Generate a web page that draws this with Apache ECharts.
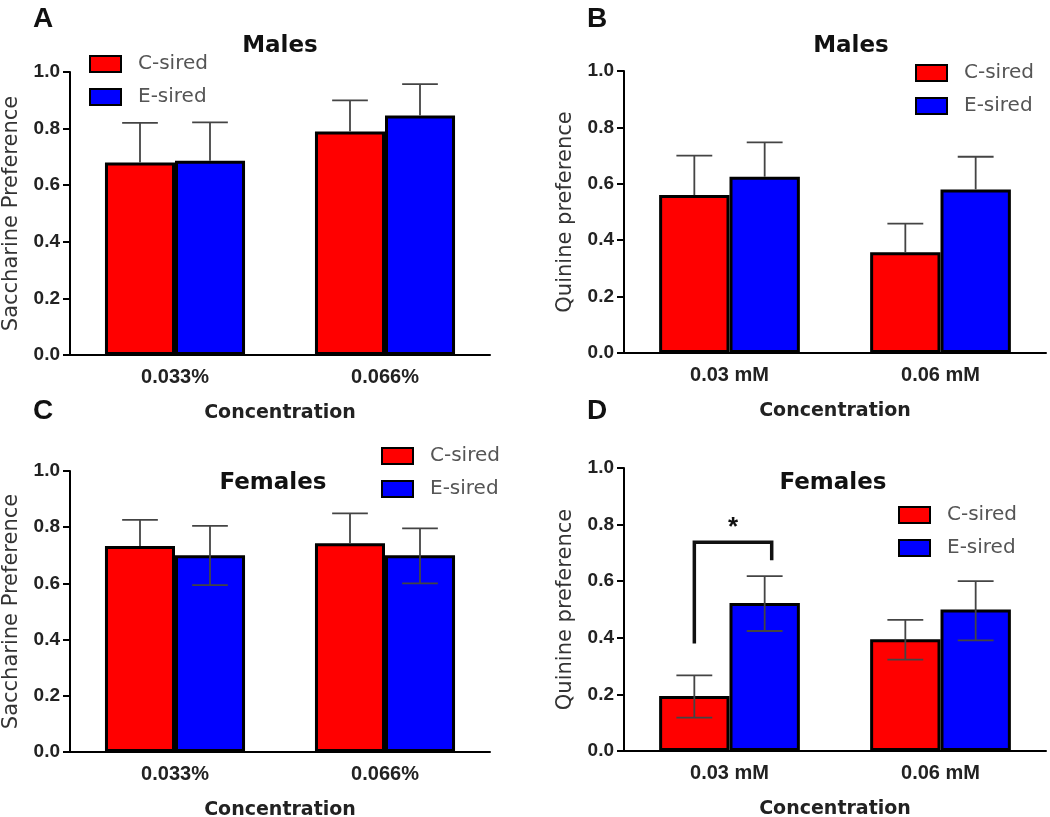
<!DOCTYPE html>
<html>
<head>
<meta charset="utf-8" />
<title>Preference</title>
<script src="https://cdn.jsdelivr.net/npm/echarts@6/dist/echarts.min.js"></script>
<style>
  html, body { margin: 0; padding: 0; background: #fff; }
  #main { width: 1050px; height: 817px; }
</style>
</head>
<body>
<div id="main"></div>
<script type="text/javascript">
// categories
var sacchCats = ['0.033%', '0.066%'];
var quinCats = ['0.03 mM', '0.06 mM'];
var yTicks = [0, 0.2, 0.4, 0.6, 0.8, 1.0];

// A - males, saccharine
var aRed = [0.68, 0.79];
var aRedHi = [0.82, 0.90];
var aRedLo = [0.68, 0.79];
var aBlue = [0.686, 0.846];
var aBlueHi = [0.822, 0.957];
var aBlueLo = [0.686, 0.846];

// B - males, quinine
var bRed = [0.56, 0.357];
var bRedHi = [0.70, 0.459];
var bRedLo = [0.56, 0.357];
var bBlue = [0.625, 0.58];
var bBlueHi = [0.747, 0.696];
var bBlueLo = [0.625, 0.58];

// C - females, saccharine
var cRed = [0.733, 0.743];
var cRedHi = [0.826, 0.849];
var cRedLo = [0.733, 0.743];
var cBlue = [0.70, 0.70];
var cBlueHi = [0.805, 0.796];
var cBlueLo = [0.594, 0.60];

// D - females, quinine
var dRed = [0.194, 0.395];
var dRedHi = [0.267, 0.463];
var dRedLo = [0.118, 0.323];
var dBlue = [0.523, 0.50];
var dBlueHi = [0.618, 0.60];
var dBlueLo = [0.424, 0.391];

// significance bracket: [category, top, left leg end, right leg end]
var dBracket = [[0, 0.738, 0.38, 0.674]];

var FONT = 'Liberation Sans, Arial, sans-serif';
var WIDE = 'DejaVu Sans, sans-serif';
var RED = '#ff0000';
var BLUE = '#0000ff';

var myChart = echarts.init(document.getElementById('main'));

var grids = [
    { left: 70, right: 560, top: 72, bottom: 462, outerBoundsMode: 'none' },
    { left: 624, right: 4, top: 71, bottom: 464, outerBoundsMode: 'none' },
    { left: 70, right: 560, top: 471, bottom: 65, outerBoundsMode: 'none' },
    { left: 624, right: 4, top: 468, bottom: 66, outerBoundsMode: 'none' }
];

function makeX(idx, cats) {
    return {
        type: 'category', gridIndex: idx, data: cats,
        name: 'Concentration', nameLocation: 'middle', nameGap: 49,
        nameTextStyle: { fontFamily: WIDE, fontSize: 19, fontWeight: 'bold', color: '#222' },
        axisLine: { lineStyle: { color: '#000', width: 2 } },
        axisTick: { alignWithLabel: true, length: 7, lineStyle: { color: '#000', width: 2 } },
        axisLabel: { fontFamily: FONT, fontSize: 20, fontWeight: 'bold', color: '#222', margin: 12 }
    };
}

function makeY(idx, name) {
    return {
        type: 'value', gridIndex: idx, min: 0, max: 1, interval: 0.2,
        name: name, nameLocation: 'middle', nameGap: 48,
        nameTextStyle: { fontFamily: WIDE, fontSize: 21, color: '#333' },
        axisLine: { show: true, lineStyle: { color: '#000', width: 2 } },
        axisTick: { show: true, length: 7, lineStyle: { color: '#000', width: 2 } },
        splitLine: { show: false },
        axisLabel: {
            fontFamily: FONT, fontSize: 19, fontWeight: 'bold', color: '#222', margin: 10,
            formatter: function (v) { return yTicks.indexOf(v) >= 0 ? v.toFixed(1) : ''; }
        }
    };
}

function barSeries(idx, name, color, vals) {
    return {
        type: 'bar', name: name, xAxisIndex: idx, yAxisIndex: idx,
        data: vals, barGap: 0, barCategoryGap: '33.3%',
        itemStyle: { color: color, borderColor: '#000', borderWidth: 3 },
        z: 2
    };
}

// side = -1 for left (red) bar, +1 for right (blue) bar
function errSeries(idx, side, vals, lo, hi) {
    var data = vals.map(function (v, i) { return [i, lo[i], hi[i]]; });
    return {
        type: 'custom', xAxisIndex: idx, yAxisIndex: idx, data: data, z: 5,
        silent: true,
        renderItem: function (params, api) {
            var band = api.size([1, 0])[0];
            var pHi = api.coord([api.value(0), api.value(2)]);
            var pLo = api.coord([api.value(0), api.value(1)]);
            var cx = pHi[0] + side * band / 6;
            var cap = band * 0.085;
            var st = { stroke: '#444', lineWidth: 1.8 };
            var kids = [
                { type: 'line', shape: { x1: cx, y1: pLo[1], x2: cx, y2: pHi[1] }, style: st },
                { type: 'line', shape: { x1: cx - cap, y1: pHi[1], x2: cx + cap, y2: pHi[1] }, style: st }
            ];
            if (api.value(1) < vals[params.dataIndex] - 0.001) {
                kids.push({ type: 'line', shape: { x1: cx - cap, y1: pLo[1], x2: cx + cap, y2: pLo[1] }, style: st });
            }
            return { type: 'group', children: kids };
        }
    };
}

var series = [
    barSeries(0, 'C-sired', RED, aRed), barSeries(0, 'E-sired', BLUE, aBlue),
    errSeries(0, -1, aRed, aRedLo, aRedHi), errSeries(0, 1, aBlue, aBlueLo, aBlueHi),
    barSeries(1, 'C-sired', RED, bRed), barSeries(1, 'E-sired', BLUE, bBlue),
    errSeries(1, -1, bRed, bRedLo, bRedHi), errSeries(1, 1, bBlue, bBlueLo, bBlueHi),
    barSeries(2, 'C-sired', RED, cRed), barSeries(2, 'E-sired', BLUE, cBlue),
    errSeries(2, -1, cRed, cRedLo, cRedHi), errSeries(2, 1, cBlue, cBlueLo, cBlueHi),
    barSeries(3, 'C-sired', RED, dRed), barSeries(3, 'E-sired', BLUE, dBlue),
    errSeries(3, -1, dRed, dRedLo, dRedHi), errSeries(3, 1, dBlue, dBlueLo, dBlueHi),
    {
        type: 'custom', xAxisIndex: 3, yAxisIndex: 3, data: dBracket, z: 6, silent: true,
        renderItem: function (params, api) {
            var band = api.size([1, 0])[0];
            var top = api.coord([api.value(0), api.value(1)]);
            var l = api.coord([api.value(0), api.value(2)]);
            var r = api.coord([api.value(0), api.value(3)]);
            var x1 = top[0] - band / 6;
            var x2 = top[0] + band * 0.2;
            return {
                type: 'group',
                children: [
                    { type: 'polyline', shape: { points: [[x1, l[1]], [x1, top[1]], [x2, top[1]], [x2, r[1]]] },
                      style: { stroke: '#111', lineWidth: 3.5, fill: null } },
                    { type: 'text', x: (x1 + x2) / 2, y: top[1] - 14,
                      style: { text: '*', fontFamily: FONT, fontSize: 26, fontWeight: 'bold', fill: '#111',
                               align: 'center', verticalAlign: 'middle' } }
                ]
            };
        }
    }
];

function legendAt(left, top) {
    return {
        left: left, top: top, orient: 'vertical', icon: 'rect',
        itemWidth: 31, itemHeight: 16, itemGap: 13,
        data: ['C-sired', 'E-sired'], selectedMode: false,
        textStyle: { fontFamily: WIDE, fontSize: 20, color: '#555', padding: [0, 0, 0, 12] }
    };
}

var titleStyle = { fontFamily: WIDE, fontSize: 23, fontWeight: 'bold', color: '#111' };
var letterStyle = { fontFamily: FONT, fontSize: 28, fontWeight: 'bold', color: '#111' };

var option = {
    animation: false,
    backgroundColor: '#fff',
    title: [
        { text: 'Males', left: 275, top: 30, textAlign: 'center', textStyle: titleStyle },
        { text: 'Males', left: 846, top: 30, textAlign: 'center', textStyle: titleStyle },
        { text: 'Females', left: 268, top: 467, textAlign: 'center', textStyle: titleStyle },
        { text: 'Females', left: 828, top: 467, textAlign: 'center', textStyle: titleStyle },
        { text: 'A', left: 28, top: 0, textStyle: letterStyle },
        { text: 'B', left: 582, top: 0, textStyle: letterStyle },
        { text: 'C', left: 28, top: 392, textStyle: letterStyle },
        { text: 'D', left: 582, top: 392, textStyle: letterStyle }
    ],
    legend: [legendAt(84, 49), legendAt(910, 58), legendAt(376, 441), legendAt(893, 500)],
    grid: grids,
    xAxis: [makeX(0, sacchCats), makeX(1, quinCats), makeX(2, sacchCats), makeX(3, quinCats)],
    yAxis: [makeY(0, 'Saccharine Preference'), makeY(1, 'Quinine preference'),
            makeY(2, 'Saccharine Preference'), makeY(3, 'Quinine preference')],
    series: series
};

myChart.setOption(option);
</script>
</body>
</html>
